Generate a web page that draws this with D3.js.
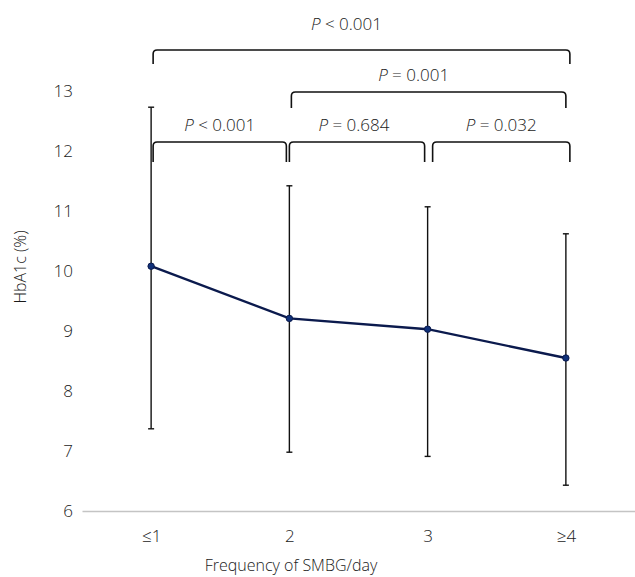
<!DOCTYPE html>
<html>
<head>
<meta charset="utf-8">
<script src="https://cdn.jsdelivr.net/npm/d3@7"></script>
<style>
  html, body { margin: 0; padding: 0; background: #fff; }
  svg { display: block; }
  text { font-family: "Open Sans", "Noto Sans", sans-serif; font-weight: 300; fill: #1a1a1a; }
</style>
</head>
<body>
<script>
// ---- data ----
const categories = ["\u22641", "2", "3", "\u22654"];
const meanValues = [10.08, 9.21, 9.03, 8.55];
const upperValues = [12.73, 11.42, 11.07, 10.62];
const lowerValues = [7.37, 6.98, 6.91, 6.43];
const yTicks = [6, 7, 8, 9, 10, 11, 12, 13];
// comparisons: from category index, to category index, label, level (0 = lowest)
const comparisons = [
  { from: 0, to: 1, label: "0.001", op: "<", level: 0 },
  { from: 1, to: 2, label: "0.684", op: "=", level: 0 },
  { from: 2, to: 3, label: "0.032", op: "=", level: 0 },
  { from: 1, to: 3, label: "0.001", op: "=", level: 1 },
  { from: 0, to: 3, label: "0.001", op: "<", level: 2 }
];

// ---- layout ----
const W = 635, H = 577;
const svg = d3.select("body").append("svg").attr("width", W).attr("height", H);

const x = d3.scalePoint().domain(categories).range([82, 635]).padding(0.5);
const y = d3.scaleLinear().domain([6, 13]).range([511, 91]);

// x axis
const xAxis = svg.append("g")
  .attr("transform", `translate(0,${y(6)})`)
  .call(d3.axisBottom(x).tickSize(0).tickPadding(19));
xAxis.select(".domain").attr("stroke", "#c4c4c4").attr("stroke-width", 1.5);
xAxis.selectAll("text").attr("font-size", 17).style("font-family", "'Open Sans', sans-serif").attr("fill", "#1a1a1a");

// y axis (labels only)
const yAxis = svg.append("g")
  .attr("transform", `translate(85,0)`)
  .call(d3.axisLeft(y).tickValues(yTicks).tickSize(0).tickPadding(12).tickFormat(d3.format("d")));
yAxis.select(".domain").remove();
yAxis.selectAll("text").attr("font-size", 17).style("font-family", "'Open Sans', sans-serif").attr("fill", "#1a1a1a");

// axis titles
svg.append("text")
  .attr("x", 291).attr("y", 571)
  .attr("text-anchor", "middle").attr("font-size", 16)
  .text("Frequency of SMBG/day");
svg.append("text")
  .attr("transform", `translate(26,${267}) rotate(-90)`)
  .attr("text-anchor", "middle").attr("font-size", 16)
  .text("HbA1c (%)");

// error bars
const eb = svg.append("g").attr("stroke", "#111").attr("stroke-width", 1.4);
categories.forEach((c, i) => {
  const cx = x(c);
  eb.append("line").attr("x1", cx).attr("x2", cx).attr("y1", y(upperValues[i])).attr("y2", y(lowerValues[i]));
  eb.append("line").attr("x1", cx - 3).attr("x2", cx + 3).attr("y1", y(upperValues[i])).attr("y2", y(upperValues[i]));
  eb.append("line").attr("x1", cx - 3).attr("x2", cx + 3).attr("y1", y(lowerValues[i])).attr("y2", y(lowerValues[i]));
});

// mean line
const line = d3.line().x((d, i) => x(categories[i])).y(d => y(d));
svg.append("path").datum(meanValues)
  .attr("d", line).attr("fill", "none")
  .attr("stroke", "#0b1a4d").attr("stroke-width", 2.4);
svg.append("g").selectAll("circle").data(meanValues).join("circle")
  .attr("cx", (d, i) => x(categories[i])).attr("cy", d => y(d))
  .attr("r", 3.2).attr("fill", "#10317a").attr("stroke", "#0b1a4d").attr("stroke-width", 1);

// significance brackets
const levelY = [142, 92, 50];
const levelLeg = [20, 16, 14];
const labelY = [131, 81, 30];
const bg = svg.append("g");
comparisons.forEach(cmp => {
  const shared0 = cmp.level === 0;
  const x0 = x(categories[cmp.from]) + (shared0 && cmp.from > 0 ? (cmp.from === 2 ? 5 : 0) : 2);
  const x1 = x(categories[cmp.to]) - (shared0 ? (cmp.to < 3 ? 3 : -4) : (cmp.level === 2 ? -4 : 0));
  const yb = levelY[cmp.level], leg = levelLeg[cmp.level], r = 4;
  const p = d3.path();
  p.moveTo(x0, yb + leg);
  p.lineTo(x0, yb + r);
  p.quadraticCurveTo(x0, yb, x0 + r, yb);
  p.lineTo(x1 - r, yb);
  p.quadraticCurveTo(x1, yb, x1, yb + r);
  p.lineTo(x1, yb + leg);
  bg.append("path").attr("d", p.toString())
    .attr("fill", "none").attr("stroke", "#111").attr("stroke-width", 1.6);
  const mid = (x0 + x1) / 2 + (cmp.level === 0 ? (cmp.from === 1 ? -3 : 0) : -15);
  const t = bg.append("text").attr("x", mid).attr("y", labelY[cmp.level])
    .attr("text-anchor", "middle").attr("font-size", 17);
  t.append("tspan").attr("font-style", "italic").text("P");
  t.append("tspan").text(` ${cmp.op} ${cmp.label}`);
});
</script>
</body>
</html>
